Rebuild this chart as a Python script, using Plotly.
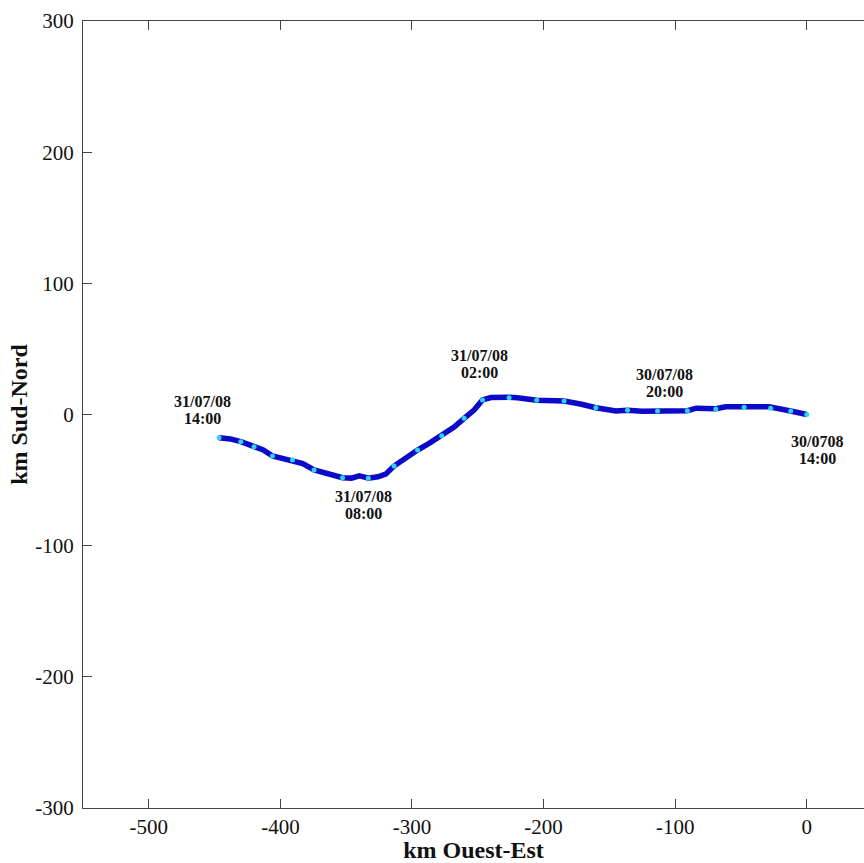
import plotly.graph_objects as go

# Drift track (km), west-east and south-north offsets from the release point
track_x = [-446.6, -438, -430.1, -420, -413, -406, -398, -390.8, -383, -374.4, -364,
           -352.8, -346, -340, -336, -333.2, -326, -320, -313.6, -305, -295.8, -287,
           -277.4, -268, -260.4, -252.8, -246.4, -240, -226.2, -219.9, -205.2, -192,
           -184.4, -172, -160.3, -145, -136.2, -125, -113.4, -100.8, -90.7, -84,
           -69.1, -61.6, -47.6, -28.6, -12.2, 0]
track_y = [-17.7, -18.6, -20.7, -24.5, -27, -31.6, -33.5, -34.7, -37.5, -42.3, -45,
           -48.2, -48.5, -46.8, -47.8, -48.6, -47.5, -45.5, -39.3, -33, -27.1, -22,
           -16.2, -9.5, -2.9, 3.4, 11.1, 12.9, 13.1, 12.8, 10.8, 11.1,
           10.3, 8, 5.2, 2.7, 3.2, 2.4, 2.7, 3.2, 2.9, 4.8,
           4.4, 5.9, 5.9, 5.9, 2.7, 0]

# Hourly positions along the track
hourly_x = [-446.6, -430.1, -420.0, -406.0, -390.8, -374.4, -352.8, -333.2, -313.6,
            -295.8, -277.4, -260.4, -246.4, -226.2, -205.2, -184.4, -160.3, -136.2,
            -113.4, -90.7, -69.1, -47.6, -27.4, -12.2, 0]
hourly_y = [-17.7, -20.7, -24.5, -31.6, -34.7, -42.3, -48.2, -48.6, -39.3,
            -27.1, -16.2, -2.9, 11.1, 12.8, 10.8, 10.3, 5.2, 3.2,
            2.7, 2.9, 4.2, 5.5, 4.7, 2.7, 0]

# Date/time labels (date line, time line)
label_date = ["31/07/08", "31/07/08", "31/07/08", "30/07/08", "30/0708"]
label_time = ["14:00", "08:00", "02:00", "20:00", "14:00"]
label_x = [-459.2, -337.2, -249.0, -107.9, 8.1]
label_y = [3.8, -69.0, 38.3, 24.2, -27.0]

x_ticks = [-500, -400, -300, -200, -100, 0]
y_ticks = [-300, -200, -100, 0, 100, 200, 300]

serif = "Liberation Serif"
ink = "#111111"

fig = go.Figure()
fig.add_trace(go.Scatter(
    x=track_x, y=track_y, mode="lines",
    line=dict(color="#0a0ac8", width=5.5),
    hoverinfo="skip", showlegend=False,
))
fig.add_trace(go.Scatter(
    x=hourly_x, y=hourly_y, mode="markers",
    marker=dict(color="#2ed2f2", size=5, symbol="circle", line=dict(width=0)),
    hoverinfo="skip", showlegend=False,
))

for d, t, lx, ly in zip(label_date, label_time, label_x, label_y):
    for txt, shift in ((d, 8.5), (t, -8.5)):
        fig.add_annotation(
            x=lx, y=ly, yshift=shift, text="<b>" + txt + "</b>", showarrow=False,
            font=dict(family=serif, size=16, color=ink),
            xanchor="center", yanchor="middle", align="center",
        )

axis_common = dict(
    showgrid=False, zeroline=False, showline=True, automargin=False,
    linecolor="#444444", linewidth=1,
    ticks="inside", ticklen=9, tickcolor="#444444", tickwidth=1,
    tickfont=dict(family=serif, size=21, color=ink),
)

fig.update_xaxes(
    range=[-550, 43.5], tickvals=x_ticks, ticktext=[str(v) for v in x_ticks],
    mirror="ticks",
    title=dict(text="<b>km Ouest-Est</b>", font=dict(family=serif, size=24, color=ink),
               standoff=10),
    **axis_common,
)
fig.update_yaxes(
    range=[-300, 300], tickvals=y_ticks, ticktext=[str(v) for v in y_ticks],
    mirror=False, ticklabelstandoff=4,
    title=dict(text="<b>km Sud-Nord</b>", font=dict(family=serif, size=24, color=ink),
               standoff=0),
    **axis_common,
)

fig.update_layout(
    width=864, height=863,
    margin=dict(l=83, r=0, t=21, b=55),
    paper_bgcolor="white", plot_bgcolor="white",
)

fig.write_html("out.html")
